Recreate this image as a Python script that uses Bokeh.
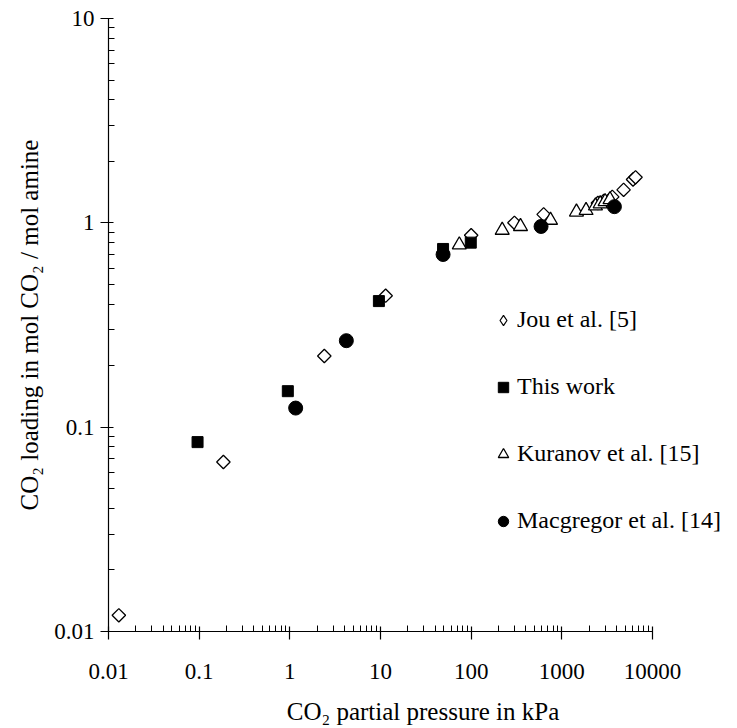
import math
from bokeh.plotting import figure
from bokeh.models import (Range1d, FixedTicker, CustomJSTickFormatter, Legend, LegendItem)
from bokeh.embed import file_html
from bokeh.resources import INLINE

# ---- data ----
jou_p = [0.013, 0.185, 2.4, 11.4, 100, 300, 630, 2500, 2900, 3600, 4800, 6100, 6500]
jou_a = [0.012, 0.0675, 0.223, 0.44, 0.87, 1.0, 1.1, 1.25, 1.28, 1.34, 1.45, 1.63, 1.67]

this_p = [0.096, 0.95, 9.6, 49, 99]
this_a = [0.0845, 0.15, 0.414, 0.745, 0.80]

kur_p = [74, 220, 350, 750, 1450, 1850, 2350, 2650, 3000, 3400]
kur_a = [0.78, 0.92, 0.96, 1.03, 1.13, 1.15, 1.21, 1.24, 1.27, 1.30]

mac_p = [1.16, 4.2, 49, 590, 3800]
mac_a = [0.124, 0.265, 0.70, 0.96, 1.20]

x_ticks = [0.01, 0.1, 1, 10, 100, 1000, 10000]
x_tick_labels = ["0.01", "0.1", "1", "10", "100", "1000", "10000"]
y_ticks = [0.01, 0.1, 1, 10]
y_tick_labels = ["0.01", "0.1", "1", "10"]

series_names = ["Jou et al. [5]", "This work", "Kuranov et al. [15]", "Macgregor et al. [14]"]

FONT = "Liberation Serif"

# axis spans 0.01..10000 over 544 px; the frame is extended to the right edge so the
# legend (which overhangs the axis end in the reference) is not clipped
AXIS_PX = 544
FRAME_W = 629
x_lo, x_hi = x_ticks[0], x_ticks[-1]
decades = math.log10(x_hi) - math.log10(x_lo)
x_end = 10 ** (math.log10(x_lo) + decades * FRAME_W / AXIS_PX)

p = figure(width=737, height=728, frame_width=FRAME_W, frame_height=613,
           x_axis_type="log", y_axis_type="log",
           x_range=Range1d(x_lo, x_end), y_range=Range1d(0.01, 10),
           output_backend="svg", toolbar_location=None,
           min_border_left=108, min_border_right=0, min_border_top=18, min_border_bottom=97)
p.outline_line_color = None
p.xgrid.visible = False
p.ygrid.visible = False
p.background_fill_color = "white"
p.border_fill_color = "white"


def minors(lo_exp, hi_exp):
    return [k * 10.0 ** e for e in range(lo_exp, hi_exp) for k in range(2, 10)]


p.xaxis.ticker = FixedTicker(ticks=x_ticks, minor_ticks=minors(-2, 4))
p.yaxis.ticker = FixedTicker(ticks=y_ticks, minor_ticks=minors(-2, 1))
p.xaxis.bounds = (x_lo, x_hi)

fmt_code = """
let best = -1;
for (let i = 0; i < tvals.length; i++) {
  if (Math.abs(Math.log10(tvals[i]) - Math.log10(tick)) < 1e-6) { best = i; }
}
return best >= 0 ? tlabels[best] : "";
"""
p.xaxis.formatter = CustomJSTickFormatter(args=dict(tvals=x_ticks, tlabels=x_tick_labels), code=fmt_code)
p.yaxis.formatter = CustomJSTickFormatter(args=dict(tvals=y_ticks, tlabels=y_tick_labels), code=fmt_code)

for ax in (p.xaxis, p.yaxis):
    ax.axis_line_color = "black"
    ax.axis_line_width = 1.2
    ax.major_tick_line_color = "black"
    ax.minor_tick_line_color = "black"
    ax.major_tick_line_width = 1.2
    ax.minor_tick_line_width = 1.0
    ax.major_tick_out = 8
    ax.major_tick_in = 5
    ax.minor_tick_out = 0
    ax.minor_tick_in = 6
    ax.major_label_text_font = FONT
    ax.major_label_text_font_size = "23px"
    ax.major_label_text_color = "black"
    ax.axis_label_text_font = FONT
    ax.axis_label_text_font_size = "25px"
    ax.axis_label_text_font_style = "normal"
    ax.axis_label_text_color = "black"

p.xaxis.axis_label = "CO\u2082 partial pressure in kPa"
p.yaxis.axis_label = "CO\u2082 loading in mol CO\u2082 / mol amine"
p.xaxis.major_label_standoff = 24
p.xaxis.axis_label_standoff = 16
p.yaxis.major_label_standoff = 6
p.yaxis.axis_label_standoff = 8

# key glyph for the diamond series: drawn under the open diamonds (fully covered by them);
# the legend uses it because the legend ignores a marker's rotation angle
r_jou_key = p.scatter(x=jou_p, y=jou_a, marker="diamond", size=12,
                      fill_color="white", line_color="black", line_width=1.2)
r_jou = p.scatter(x=jou_p, y=jou_a, marker="square", size=9.5, angle=math.pi / 4,
                  fill_color="white", line_color="black", line_width=1.3)
r_this = p.scatter(x=this_p, y=this_a, marker="square", size=11,
                   fill_color="black", line_color="black", line_width=1)
r_kur = p.scatter(x=kur_p, y=kur_a, marker="triangle", size=14,
                  fill_color="white", line_color="black", line_width=1.3)
r_mac = p.scatter(x=mac_p, y=mac_a, marker="circle", size=14,
                  fill_color="black", line_color="black", line_width=1)

legend = Legend(items=[LegendItem(label=series_names[0], renderers=[r_jou_key]),
                       LegendItem(label=series_names[1], renderers=[r_this]),
                       LegendItem(label=series_names[2], renderers=[r_kur]),
                       LegendItem(label=series_names[3], renderers=[r_mac])],
                location=(382, 97), padding=0, margin=0, spacing=40,
                glyph_width=26, glyph_height=26, label_height=26, label_standoff=1,
                border_line_color=None, background_fill_alpha=0,
                label_text_font=FONT, label_text_font_size="24px", label_text_color="black")
p.add_layout(legend, "center")

open("out.html", "w").write(file_html(p, INLINE))
